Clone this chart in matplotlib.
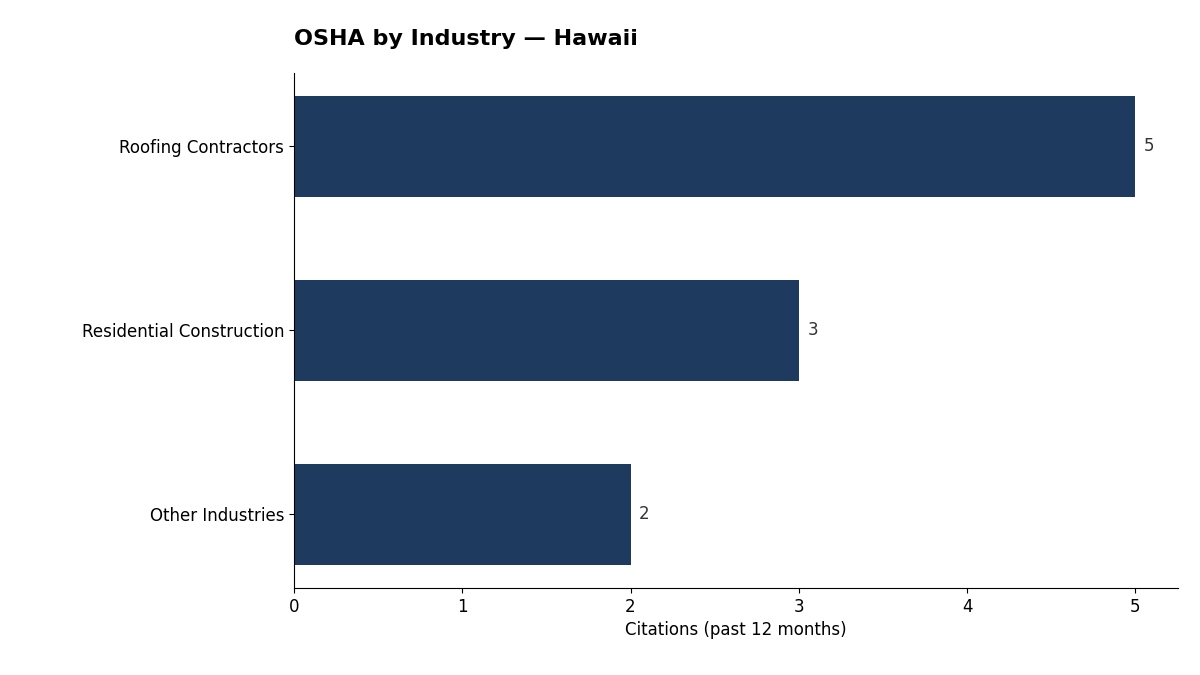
import matplotlib
matplotlib.use("Agg")
import matplotlib.pyplot as plt

categories = ["Roofing Contractors", "Residential Construction", "Other Industries"]
values = [5, 3, 2]

fig = plt.figure(figsize=(12, 6.75), dpi=100)
ax = fig.add_axes([0.245, 0.129, 0.737, 0.763])
y = list(range(len(categories)))[::-1]
ax.barh(y, values, height=0.55, color="#1f3a5f")
for yi, v in zip(y, values):
    ax.text(v + 0.05, yi, str(v), va="center", ha="left", fontsize=12, color="#333333")
ax.set_yticks(y)
ax.set_yticklabels(categories, fontsize=12)
ax.set_ylim(-0.4, 2.4)
ax.set_xlim(0, 5.256)
ax.set_xticks(range(6))
ax.tick_params(axis="x", labelsize=12)
ax.set_xlabel("Citations (past 12 months)", fontsize=12)
ax.spines["top"].set_visible(False)
ax.spines["right"].set_visible(False)
ax.set_title("OSHA by Industry — Hawaii", loc="left", fontsize=16, fontweight="bold", pad=20)
fig.savefig("out.png", dpi=100)
